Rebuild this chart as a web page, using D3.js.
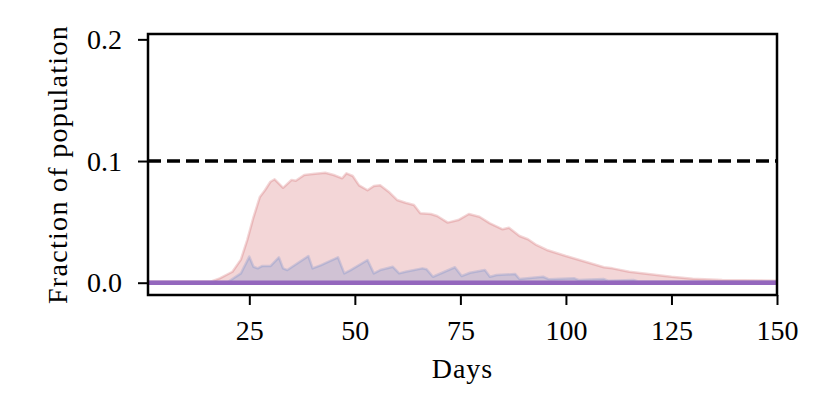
<!DOCTYPE html>
<html>
<head>
<meta charset="utf-8">
<script src="https://cdn.jsdelivr.net/npm/d3@7"></script>
<style>
  body { margin: 0; background: #fff; }
  text { font-family: "Liberation Serif", "DejaVu Serif", serif; }
</style>
</head>
<body>
<div class="chart"></div>
<script>
// infected fraction (red band)
const infectedDays = [1, 16, 18, 21, 23, 24.5, 26, 27.5, 28.7, 30, 31, 33, 35, 36, 38, 40, 43, 45, 47, 48, 49.5,
  51, 53, 54.5, 56, 58, 60, 62, 64, 65.5, 68, 69.5, 72, 74.5, 77, 79.5, 82, 85, 86.5, 89, 91, 93, 95.5,
  100, 104, 109, 111, 115, 120, 125, 130, 137, 150];
const infectedFrac = [0.001, 0.001, 0.0036, 0.009, 0.019, 0.035, 0.054, 0.0705, 0.076, 0.083, 0.085, 0.078, 0.0845,
  0.0838, 0.0885, 0.0893, 0.0904, 0.0885, 0.0858, 0.0899, 0.0877, 0.080, 0.076, 0.0795, 0.080, 0.0748, 0.068,
  0.0657, 0.0638, 0.057, 0.0565, 0.0548, 0.0494, 0.0515, 0.0565, 0.0542, 0.0488, 0.0439, 0.0452, 0.0384,
  0.0357, 0.031, 0.0269, 0.0219, 0.0178, 0.0127, 0.0118, 0.009, 0.0069, 0.0049, 0.0033, 0.0022, 0.0016];

// second band (blue)
const hospDays = [1, 20, 23, 25, 26, 27, 28, 30, 32, 33, 34, 39, 40, 42, 46, 47.5, 49, 53, 54.5, 56, 59, 60.5, 62,
  66, 67, 68.5, 73.7, 75.3, 77.3, 80.8, 82, 83.6, 88, 89, 94.6, 96, 102, 103, 109, 110, 116, 117, 150];
const hospFrac = [0.0005, 0.0008, 0.0077, 0.0214, 0.0131, 0.0118, 0.0137, 0.0137, 0.0209, 0.0118, 0.0104, 0.0219,
  0.0118, 0.0145, 0.0209, 0.0077, 0.0104, 0.0187, 0.0077, 0.0104, 0.0131, 0.0077, 0.009, 0.0118, 0.011, 0.0049,
  0.0127, 0.0055, 0.0082, 0.0104, 0.0049, 0.0063, 0.0071, 0.003, 0.0049, 0.0028, 0.0036, 0.0022, 0.003, 0.0016,
  0.0022, 0.0013, 0.001];

// purple line along zero
const baseDays = [1, 150];
const baseFrac = [0, 0];

const threshold = 0.1;
const xTicks = [25, 50, 75, 100, 125, 150];
const yTicks = [0.0, 0.1, 0.2];

const svg_width = 830, svg_height = 415;
const margin = { top: 34, right: 53, bottom: 120, left: 148 };
const chart_width = svg_width - margin.left - margin.right;
const chart_height = svg_height - margin.top - margin.bottom;

const svg = d3.select('.chart').append('svg')
  .attr('width', svg_width).attr('height', svg_height);
const g = svg.append('g').attr('transform', `translate(${margin.left},${margin.top})`);

const xScale = d3.scaleLinear().domain([1, 150]).range([0, chart_width]);
const yScale = d3.scaleLinear().domain([-0.0101, 0.2044]).range([chart_height, 0]);

const toPts = (xs, ys) => xs.map((d, i) => ({ x: d, y: ys[i] }));

const area = d3.area().x(d => xScale(d.x)).y0(yScale(0)).y1(d => yScale(d.y));
const line = d3.line().x(d => xScale(d.x)).y(d => yScale(d.y));

// transparent bands, blue drawn over red
const bands = [
  { pts: toPts(infectedDays, infectedFrac), color: '#c33237' },
  { pts: toPts(hospDays, hospFrac), color: '#4472c8' }
];
bands.forEach(b => {
  g.append('path').attr('d', area(b.pts))
    .style('fill', b.color).style('fill-opacity', 0.2).style('stroke', 'none');
  g.append('path').attr('d', line(b.pts))
    .style('fill', 'none').style('stroke', b.color).style('stroke-opacity', 0.2)
    .style('stroke-width', 2.5).style('stroke-linejoin', 'round');
});

g.append('path').attr('d', line(toPts(baseDays, baseFrac)))
  .style('fill', 'none').style('stroke', '#9467bd').style('stroke-width', 4.5);

g.append('line')
  .attr('x1', 0).attr('x2', chart_width)
  .attr('y1', yScale(threshold)).attr('y2', yScale(threshold))
  .style('stroke', '#000').style('stroke-width', 3.5).style('stroke-dasharray', '13,6');

// axes
const xAxis = d3.axisBottom(xScale).tickValues(xTicks).tickSize(10).tickPadding(15).tickSizeOuter(0);
const yAxis = d3.axisLeft(yScale).tickValues(yTicks).tickFormat(d3.format('.1f')).tickSize(10).tickPadding(16).tickSizeOuter(0);

const xg = g.append('g').attr('transform', `translate(0,${chart_height})`).call(xAxis);
const yg = g.append('g').call(yAxis);
[xg, yg].forEach(a => {
  a.select('.domain').remove();
  a.selectAll('.tick line').style('stroke', '#000').style('stroke-width', 2);
  a.selectAll('.tick text').style('font-size', '28px').style('fill', '#000');
});

g.append('rect').attr('width', chart_width).attr('height', chart_height)
  .style('fill', 'none').style('stroke', '#000').style('stroke-width', 2.5);

svg.append('text')
  .attr('x', margin.left + chart_width / 2).attr('y', 378)
  .attr('text-anchor', 'middle').style('font-size', '28px').style('letter-spacing', '1px')
  .text('Days');

svg.append('text')
  .attr('transform', `translate(67,${margin.top + chart_height / 2}) rotate(-90)`)
  .attr('text-anchor', 'middle').style('font-size', '28px').style('letter-spacing', '1.3px')
  .text('Fraction of population');
</script>
</body>
</html>
